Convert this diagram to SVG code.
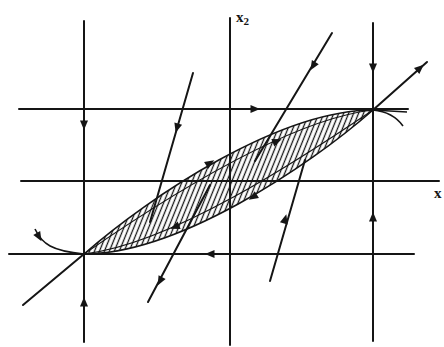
<svg xmlns="http://www.w3.org/2000/svg" xmlns:xlink="http://www.w3.org/1999/xlink" width="444" height="347" viewBox="0 0 444 347">
<style>
.ln{stroke:#151515;stroke-width:2;fill:none;stroke-linecap:round}
.cv{stroke:#151515;stroke-width:1.6;fill:none}
.thin{stroke:#151515;stroke-width:1.2;fill:none}
.ah{fill:#151515}
.lbl{font-family:"Liberation Serif","DejaVu Serif",serif;font-weight:bold;fill:#151515}
</style>
<defs>
<path id="ah" d="M5,0 L-4.5,-4 L-4.5,4 Z"/>
<pattern id="hatch" width="4.6" height="10" patternUnits="userSpaceOnUse" patternTransform="rotate(22)">
<line x1="2.3" y1="0" x2="2.3" y2="10" stroke="#151515" stroke-width="1.3"/>
</pattern>
<clipPath id="lensClip">
<path d="M84,254 C150,196 280,110 373,110 C307,168 177,254 84,254 Z"/>
</clipPath>
</defs>
<rect width="444" height="347" fill="#ffffff"/>
<g id="lens">
<rect x="80" y="105" width="300" height="155" fill="url(#hatch)" clip-path="url(#lensClip)"/>
<path class="cv" d="M84,254 C150,196 280,110 373,110"/>
<path class="cv" d="M84,254 C177,254 307,168 373,110"/>
<path class="thin" d="M84,254 C155,205 285,120 373,110"/>
<path class="thin" d="M84,254 C172,244 302,158 373,110"/>
</g>
<g id="connectors">
<line class="ln" x1="84" y1="21" x2="84" y2="342"/>
<line class="ln" x1="230" y1="18" x2="230" y2="345"/>
<line class="ln" x1="373" y1="23" x2="373" y2="341"/>
<line class="ln" x1="19" y1="109" x2="408" y2="109"/>
<line class="ln" x1="21" y1="181" x2="439" y2="181"/>
<line class="ln" x1="9" y1="254" x2="414" y2="254"/>
<line class="ln" x1="23" y1="305" x2="84" y2="254"/>
<line class="ln" x1="373" y1="110" x2="427" y2="62"/>
<line class="ln" x1="193" y1="73" x2="150" y2="222"/>
<line class="ln" x1="148" y1="302" x2="210" y2="185"/>
<line class="ln" x1="332" y1="33" x2="255" y2="161"/>
<line class="ln" x1="270" y1="281" x2="305" y2="160"/>
<path class="cv" d="M35,229 C42,244 52,251 84,254"/>
<path class="cv" d="M373,110 L407,112"/>
<path class="cv" d="M373,110 Q393,112 403,126"/>
<use href="#ah" class="ah" transform="translate(84,125) rotate(90)"/>
<use href="#ah" class="ah" transform="translate(84,302) rotate(-90)"/>
<use href="#ah" class="ah" transform="translate(373,68) rotate(90)"/>
<use href="#ah" class="ah" transform="translate(373,217) rotate(-90)"/>
<use href="#ah" class="ah" transform="translate(255,109)"/>
<use href="#ah" class="ah" transform="translate(210,254) rotate(180)"/>
<use href="#ah" class="ah" transform="translate(177,128) rotate(106)"/>
<use href="#ah" class="ah" transform="translate(160,281) rotate(118)"/>
<use href="#ah" class="ah" transform="translate(313,66) rotate(121)"/>
<use href="#ah" class="ah" transform="translate(285,219) rotate(-74)"/>
<use href="#ah" class="ah" transform="translate(420,68) rotate(-42)"/>
<use href="#ah" class="ah" transform="translate(39,237) rotate(60)"/>
<use href="#ah" class="ah" transform="translate(210,163) rotate(-32)"/>
<use href="#ah" class="ah" transform="translate(277,141) rotate(-22)"/>
<use href="#ah" class="ah" transform="translate(253,197) rotate(148)"/>
<use href="#ah" class="ah" transform="translate(175,227) rotate(158)"/>
</g>
<g id="label-x2">
<text class="lbl" x="236" y="22" font-size="15">x<tspan font-size="11" dy="3">2</tspan></text>
</g>
<g id="label-x">
<text class="lbl" x="434" y="198" font-size="15">x</text>
</g>
</svg>
